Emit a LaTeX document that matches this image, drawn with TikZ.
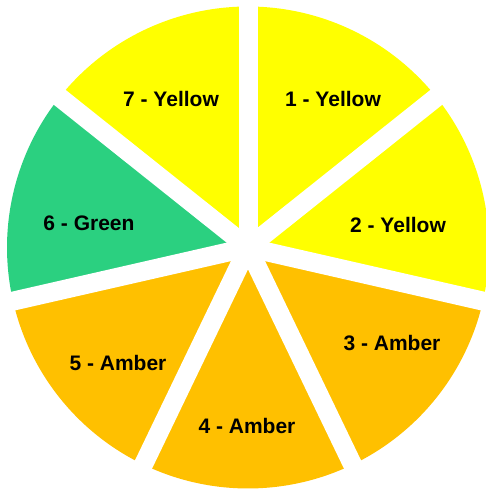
\documentclass[tikz,border=0pt]{standalone}
\usepackage{fontspec}
\setmainfont{Liberation Sans}
\usetikzlibrary{calc}
\definecolor{pieyellow}{RGB}{255,255,0}
\definecolor{pieamber}{RGB}{255,192,0}
\definecolor{piegreen}{RGB}{43,208,128}
\begin{document}
\begin{tikzpicture}[x=1pt,y=1pt,
  lbl/.style={font=\fontsize{21}{25}\selectfont\bfseries, text=black, inner sep=0pt},
  gap/.style={white, line width=19pt}]
\fill[white] (0,0) rectangle (486,490);
\useasboundingbox (0,0) rectangle (486,490);
\clip (0,0) rectangle (486,490);
\coordinate (c) at (248,242.5);
\def\R{241}
\foreach \i/\col in {0/pieyellow,1/pieyellow,2/pieamber,3/pieamber,4/pieamber,5/piegreen,6/pieyellow} {
  \pgfmathsetmacro\a{90-\i*360/7}
  \pgfmathsetmacro\b{90-(\i+1)*360/7}
  \fill[\col] (c) -- ++(\a:\R) arc[start angle=\a, end angle=\b, radius=\R] -- cycle;
}
\foreach \i in {0,...,6} {
  \pgfmathsetmacro\a{90-\i*360/7}
  \coordinate (e\i) at ($(c)+(\a:260)$);
  \draw[gap] (c) -- (e\i);
}
\node[lbl] (l1) at (333,391) {1 - Yellow};
\node[lbl] (l2) at (398,265) {2 - Yellow};
\node[lbl] (l3) at (392,147) {3 - Amber};
\node[lbl] (l4) at (247,64) {4 - Amber};
\node[lbl] (l5) at (118,127) {5 - Amber};
\node[lbl] (l6) at (89,267) {6 - Green};
\node[lbl] (l7) at (171,391) {7 - Yellow};
\end{tikzpicture}
\end{document}
